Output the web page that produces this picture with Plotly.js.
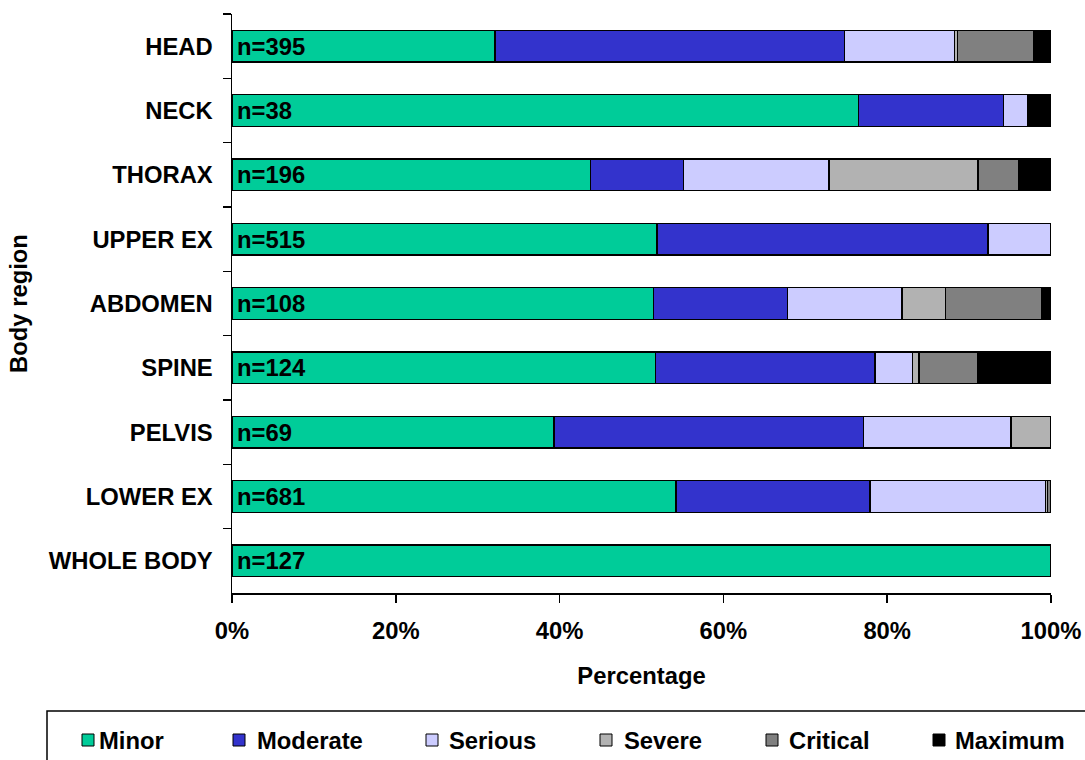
<!DOCTYPE html>
<html>
<head>
<meta charset="utf-8">
<script src="https://cdn.plot.ly/plotly-3.0.1.min.js"></script>
<style>
html,body{margin:0;padding:0;background:#fff;}
#chart{width:1085px;height:760px;}
</style>
</head>
<body>
<div id="chart"></div>
<script>
// ---- data (percentages) ----
var categories = ['HEAD','NECK','THORAX','UPPER EX','ABDOMEN','SPINE','PELVIS','LOWER EX','WHOLE BODY'];
var nLabels = ['n=395','n=38','n=196','n=515','n=108','n=124','n=69','n=681','n=127'];
var seriesNames = ['Minor','Moderate','Serious','Severe','Critical','Maximum'];
var minor    = [32.1, 76.5, 43.8, 51.9, 51.5, 51.7, 39.3, 54.2, 100];
var moderate = [42.7, 17.7, 11.3, 40.4, 16.3, 26.8, 37.8, 23.7, 0];
var serious  = [13.4,  2.9, 17.8,  7.7, 14.0,  4.6, 18.0, 21.4, 0];
var severe   = [ 0.4,  0,   18.2,  0,    5.3,  0.8,  4.9,  0.3, 0];
var critical = [ 9.3,  0,    5.0,  0,   11.8,  7.1,  0,    0.3, 0];
var maximum  = [ 2.1,  2.9,  3.9,  0,    1.1,  9.0,  0,    0.1, 0];
var xTickVals = [0, 20, 40, 60, 80, 100];
var xTickText = ['0%','20%','40%','60%','80%','100%'];

// ---- styling ----
var seriesValues = [minor, moderate, serious, severe, critical, maximum];
var colors = ['#00CC99','#3333CC','#CCCCFF','#B2B2B2','#808080','#000000'];
var FONT = 'Liberation Sans, Arial, Helvetica, sans-serif';
var FS = 23.8;

var traces = seriesNames.map(function(name, i){
  return {
    type: 'bar',
    orientation: 'h',
    name: name,
    y: categories,
    x: seriesValues[i],
    marker: {color: colors[i], line: {color: '#000000', width: 1.3}},
    hoverinfo: 'name+x',
    showlegend: false
  };
});

// plot area geometry (pixels)
var W = 1085, H = 760;
var L = 232, R = 1051, T = 14, B = 593;
function px2x(px){ return (px - L) / (R - L); }
function px2y(py){ return (B - py) / (B - T); }

var annotations = categories.map(function(c, i){
  return {
    x: 0, xref: 'x', y: c, yref: 'y',
    text: '<b>' + nLabels[i] + '</b>',
    showarrow: false, xanchor: 'left', yanchor: 'middle',
    xshift: 3,
    font: {family: FONT, size: FS, color: '#000'}
  };
});

// manual legend (boxed, horizontal)
var shapes = [{
  type: 'rect', xref: 'paper', yref: 'paper',
  x0: px2x(47), x1: px2x(1095), y0: px2y(711), y1: px2y(775),
  line: {color: '#000', width: 1.5}, fillcolor: 'rgba(0,0,0,0)'
}];
var legSquareX = [88, 239, 432, 606, 772, 939];
var legTextX   = [97, 255, 447, 622, 787, 953];
var legY = 740;
seriesNames.forEach(function(name, i){
  shapes.push({
    type: 'rect', xref: 'paper', yref: 'paper',
    x0: px2x(legSquareX[i] - 6), x1: px2x(legSquareX[i] + 6),
    y0: px2y(legY - 6), y1: px2y(legY + 6),
    line: {color: '#000', width: 1}, fillcolor: colors[i]
  });
  annotations.push({
    xref: 'paper', yref: 'paper', x: px2x(legTextX[i]), y: px2y(legY),
    text: '<b>' + name + '</b>', showarrow: false,
    xanchor: 'left', yanchor: 'middle',
    font: {family: FONT, size: FS, color: '#000'}
  });
});

var layout = {
  width: W, height: H,
  margin: {l: L, r: W - R, t: T, b: H - B, pad: 0},
  paper_bgcolor: '#ffffff', plot_bgcolor: '#ffffff',
  barmode: 'stack',
  bargap: 0.51,
  showlegend: false,
  font: {family: FONT, size: FS, color: '#000'},
  xaxis: {
    range: [0, 100],
    tickvals: xTickVals, ticktext: xTickText,
    showgrid: false, zeroline: false,
    showline: true, linecolor: '#000', linewidth: 1.5,
    ticks: 'outside', ticklen: 8, tickwidth: 1.5, tickcolor: '#000',
    ticklabelstandoff: 8,
    tickfont: {family: FONT, size: FS, color: '#000', weight: 'bold'},
    title: {text: '<b>Percentage</b>', font: {family: FONT, size: FS, color: '#000'}, standoff: 24},
    fixedrange: true
  },
  yaxis: {
    type: 'category',
    categoryorder: 'array', categoryarray: categories,
    range: [categories.length - 0.5, -0.5],
    showgrid: false, zeroline: false,
    showline: true, linecolor: '#000', linewidth: 1.5,
    ticks: 'outside', tickson: 'boundaries', ticklen: 8, tickwidth: 1.5, tickcolor: '#000',
    ticklabelstandoff: 13,
    tickfont: {family: FONT, size: FS, color: '#000', weight: 'bold'},
    title: {text: '<b>Body region</b>', font: {family: FONT, size: FS, color: '#000'}, standoff: 14},
    fixedrange: true
  },
  shapes: shapes,
  annotations: annotations
};

Plotly.newPlot('chart', traces, layout, {displayModeBar: false, staticPlot: true});
</script>
</body>
</html>
